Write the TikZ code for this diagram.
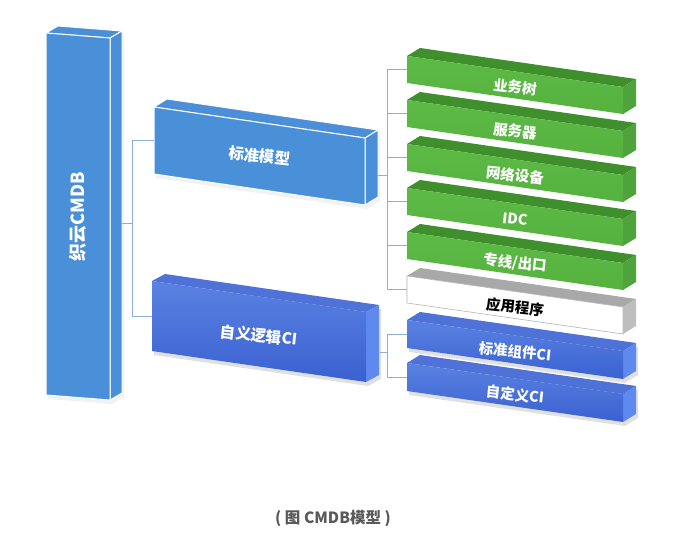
\documentclass[tikz,border=0pt]{standalone}
\usepackage{fontspec}
\setmainfont{Noto Sans CJK SC}
\usetikzlibrary{calc}
\definecolor{colfront}{HTML}{4A90D9}
\definecolor{coltop}{HTML}{4C8FD8}
\definecolor{colside}{HTML}{4A90D9}
\definecolor{grfront}{HTML}{5DBA45}
\definecolor{grfrontb}{HTML}{56B23F}
\definecolor{grtop}{HTML}{3F8F2D}
\definecolor{grside}{HTML}{4FA33C}
\definecolor{gytop}{HTML}{A8A8A8}
\definecolor{gyside}{HTML}{BEBEBE}
\definecolor{gyline}{HTML}{B4B4B4}
\definecolor{blfronta}{HTML}{5A82E2}
\definecolor{blfrontb}{HTML}{3A61D0}
\definecolor{bltop}{HTML}{4E72D7}
\definecolor{blside}{HTML}{5E89EE}
\definecolor{connc}{HTML}{8DAFD6}
\definecolor{capc}{HTML}{595959}
% prism: #1 scheme, #2 name, #3 x left, #4 y top-left, #5 x right, #6 y top-right, #7 height, #8 depth
\newcommand\prism[8]{%
  \coordinate (#2-tl) at (#3,#4);
  \coordinate (#2-bl) at (#3,#4+#7);
  \coordinate (#2-tr) at (#5,#6);
  \coordinate (#2-br) at (#5,#6+#7);
  \coordinate (#2-ttl) at ($(#2-tl)+(#8)$);
  \coordinate (#2-ttr) at ($(#2-tr)+(#8)$);
  \coordinate (#2-tbr) at ($(#2-br)+(#8)$);
  \path[#1 shadow] ($(#2-tl)+(2,4)$) -- ($(#2-ttr)+(2,4)$) -- ($(#2-tbr)+(2,4)$) -- ($(#2-br)+(2,4)$) -- ($(#2-bl)+(2,4)$) -- cycle;
  \path[#1 top] (#2-tl) -- (#2-ttl) -- (#2-ttr) -- (#2-tr) -- cycle;
  \path[#1 side] (#2-tr) -- (#2-ttr) -- (#2-tbr) -- (#2-br) -- cycle;
  \path[#1 front] (#2-tl) -- (#2-tr) -- (#2-br) -- (#2-bl) -- cycle;
  \coordinate (#2-w) at ($(#2-tl)!.5!(#2-bl)$);
  \coordinate (#2-c) at ($(#2-tl)!.5!(#2-br)$);
}
\begin{document}
\begin{tikzpicture}[x=1pt,y=-1pt,
  col top/.style={fill=coltop,draw=white,line width=1pt,line join=round},
  col side/.style={fill=colside,draw=white,line width=1pt,line join=round},
  col front/.style={fill=colfront,draw=white,line width=1pt,line join=round},
  col shadow/.style={fill=black,opacity=0.05},
  grn top/.style={fill=grtop},
  grn side/.style={fill=grside},
  grn front/.style={top color=grfront,bottom color=grfrontb},
  grn shadow/.style={},
  gry top/.style={fill=gytop},
  gry side/.style={fill=gyside},
  gry front/.style={fill=white,draw=gyline,line width=0.6pt},
  gry shadow/.style={},
  blu top/.style={fill=bltop},
  blu side/.style={fill=blside},
  blu front/.style={top color=blfronta,bottom color=blfrontb},
  blu shadow/.style={fill=black,opacity=0.12},
  conn/.style={draw=connc,line width=0.9pt},
  lbl/.style={text=white,font=\bfseries\fontsize{14.5}{16}\selectfont,inner sep=0pt},
  biglbl/.style={text=white,font=\bfseries\fontsize{15.5}{17}\selectfont,inner sep=0pt},
]
\useasboundingbox (0,0) rectangle (686,545);
\fill[white] (0,0) rectangle (686,545);

% connector ports
\coordinate (cmdbport) at (122,223);
\coordinate (busL) at (132,223);
\coordinate (stdport) at (378,175);
\coordinate (busR) at (387,175);
\coordinate (custport) at (380,352);
\coordinate (busR2) at (387,352);

% prisms (geometry)
\prism{col}{cmdb}{46}{33}{110}{38}{362}{12,-7}
\prism{col}{std}{154}{107}{365}{138}{67}{13,-8}
\prism{blu}{cust}{152}{281}{366}{312}{70}{13,-7}
\prism{grn}{b1}{407}{56}{623}{87}{27}{13,-8}
\prism{grn}{b2}{407}{100}{623}{131}{27}{13,-8}
\prism{grn}{b3}{407}{144}{623}{175}{27}{13,-8}
\prism{grn}{b4}{407}{188}{623}{219}{27}{13,-8}
\prism{grn}{b5}{407}{232}{623}{263}{27}{13,-8}
\prism{gry}{b6}{407}{276}{623}{307}{27}{13,-8}
\prism{blu}{b7}{407}{320}{623}{351}{28}{13,-8}
\prism{blu}{b8}{407}{363}{623}{394}{28}{13,-8}

% connectors
\draw[conn] (cmdbport) -- (busL);
\draw[conn] (std-w) -| (busL);
\draw[conn] (cust-w) -| (busL);
\draw[conn] (stdport) -- (busR);
\foreach \b in {b1,b2,b3,b4,b5,b6}{\draw[conn] (\b-w) -| (busR);}
\draw[conn] (custport) -- (busR2);
\draw[conn] (b7-w) -| (busR2);
\draw[conn] (b8-w) -| (busR2);

% labels
\node[biglbl,rotate=90,font=\bfseries\fontsize{18}{20}\selectfont] (tcmdb) at (cmdb-c) {织云CMDB};
\node[biglbl,rotate=-6] (tstd) at (std-c) {标准模型};
\node[biglbl,rotate=-6] (tcust) at ($(cust-c)+(0,4)$) {自义逻辑CI};
\node[lbl,rotate=-6] (t1) at ($(b1-c)+(0,2)$) {业务树};
\node[lbl,rotate=-6] (t2) at ($(b2-c)+(0,2)$) {服务器};
\node[lbl,rotate=-6] (t3) at ($(b3-c)+(0,2)$) {网络设备};
\node[lbl,rotate=-6] (t4) at ($(b4-c)+(0,2)$) {IDC};
\node[lbl,rotate=-6] (t5) at ($(b5-c)+(0,2)$) {专线/出口};
\node[lbl,rotate=-6,text=black] (t6) at ($(b6-c)+(0,2)$) {应用程序};
\node[lbl,rotate=-6] (t7) at ($(b7-c)+(0,2)$) {标准组件CI};
\node[lbl,rotate=-6] (t8) at ($(b8-c)+(0,2)$) {自定义CI};

\node[text=capc,font=\bfseries\fontsize{15.5}{17}\selectfont,inner sep=0pt] (cap) at (333,518) {( 图 CMDB模型 )};
\end{tikzpicture}
\end{document}
